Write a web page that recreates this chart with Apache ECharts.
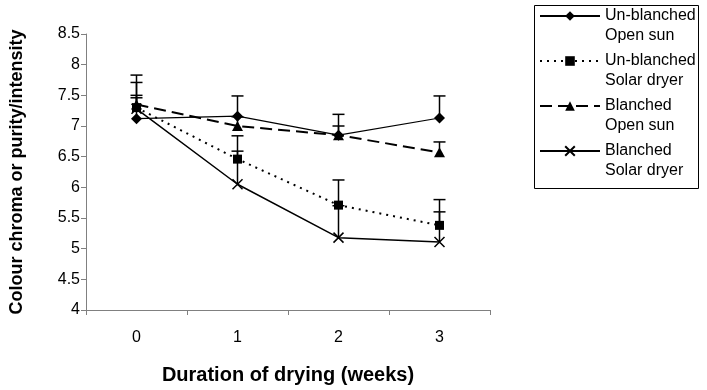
<!DOCTYPE html>
<html><head><meta charset="utf-8">
<script src="https://cdn.jsdelivr.net/npm/echarts@6/dist/echarts.min.js"></script>
<style>html,body{margin:0;padding:0;background:#fff}#c{width:707px;height:390px}</style>
</head><body><div id="c"></div>
<script>
var categories = ['0', '1', '2', '3'];
var unOpenSun = [7.12, 7.16, 6.85, 7.13];
var unOpenSunUpper = [7.50, 7.49, 7.19, 7.49];
var unSolar = [7.30, 6.46, 5.71, 5.38];
var unSolarUpper = [7.83, 6.84, 6.12, 5.80];
var blOpenSun = [7.35, 7.00, 6.85, 6.57];
var blOpenSunUpper = [7.71, 7.15, 7.00, 6.74];
var blSolar = [7.28, 6.05, 5.18, 5.11];
var blSolarUpper = [7.46, 6.59, 5.70, 5.60];
var yTicks = {min: 4, max: 8.5, interval: 0.5};

var names = ['Un-blanched\nOpen sun', 'Un-blanched\nSolar dryer', 'Blanched\nOpen sun', 'Blanched\nSolar dryer'];
var FONT = 'Liberation Sans, Arial, sans-serif';

function errSeries(vals, upper) {
  return {
    type: 'custom',
    silent: true,
    z: 1,
    data: vals.map(function (v, i) { return [i, v, upper[i]]; }),
    renderItem: function (params, api) {
      var p0 = api.coord([api.value(0), api.value(1)]);
      var p1 = api.coord([api.value(0), api.value(2)]);
      var hw = 6;
      return {
        type: 'group',
        children: [
          {type: 'line', shape: {x1: p0[0], y1: p0[1], x2: p1[0], y2: p1[1]}, style: {stroke: '#000', lineWidth: 1.5}},
          {type: 'line', shape: {x1: p1[0] - hw, y1: p1[1], x2: p1[0] + hw, y2: p1[1]}, style: {stroke: '#000', lineWidth: 1.5}}
        ]
      };
    }
  };
}

var chart = echarts.init(document.getElementById('c'), null, {renderer: 'canvas'});
chart.setOption({
  animation: false,
  backgroundColor: '#fff',
  textStyle: {fontFamily: FONT, color: '#000'},
  grid: {left: 86, right: 217, top: 34, bottom: 77},
  graphic: [{
    type: 'rect', left: 532, top: 3, z: 0,
    shape: {width: 164, height: 183},
    style: {fill: 'none', stroke: '#000', lineWidth: 1}
  }],
  legend: {
    left: 539, top: -14,
    orient: 'vertical',
    padding: 0,
    itemWidth: 60, itemHeight: 12,
    itemGap: -15,
    formatter: function (n) { return '\u00a0\n' + n; },
    textStyle: {fontFamily: FONT, fontSize: 16, color: '#000', lineHeight: 20},
    data: names
  },
  xAxis: {
    type: 'category',
    data: categories,
    boundaryGap: true,
    axisLine: {lineStyle: {color: '#808080', width: 1}},
    axisTick: {show: true, length: 5, inside: false, lineStyle: {color: '#808080'}},
    axisLabel: {fontFamily: FONT, fontSize: 16, color: '#000', margin: 20},
    name: 'Duration of drying (weeks)',
    nameLocation: 'middle',
    nameGap: 55,
    nameTextStyle: {fontFamily: FONT, fontSize: 20, fontWeight: 'bold', color: '#000'}
  },
  yAxis: {
    type: 'value',
    min: yTicks.min, max: yTicks.max, interval: yTicks.interval,
    splitLine: {show: false},
    axisLine: {show: true, lineStyle: {color: '#808080', width: 1}},
    axisTick: {show: true, length: 5, lineStyle: {color: '#808080'}},
    axisLabel: {fontFamily: FONT, fontSize: 16, color: '#000', margin: 6,
      formatter: function (v) { return String(Math.round(v * 10) / 10); }},
    name: 'Colour chroma or purity/intensity',
    nameLocation: 'middle',
    nameGap: 60,
    nameTextStyle: {fontFamily: FONT, fontSize: 18, fontWeight: 'bold', color: '#000'}
  },
  series: [
    {name: names[0], type: 'line', data: unOpenSun, z: 3,
      symbol: 'diamond', symbolSize: [11, 11],
      lineStyle: {color: '#000', width: 1.2, type: 'solid'},
      itemStyle: {color: '#000', borderColor: '#000', borderWidth: 0}},
    {name: names[1], type: 'line', data: unSolar, z: 3,
      symbol: 'rect', symbolSize: 9,
      lineStyle: {color: '#000', width: 2, type: [2, 5]},
      itemStyle: {color: '#000', borderColor: '#000', borderWidth: 0}},
    {name: names[2], type: 'line', data: blOpenSun, z: 3,
      symbol: 'triangle', symbolSize: [11, 10],
      lineStyle: {color: '#000', width: 2, type: [12, 6]},
      itemStyle: {color: '#000', borderColor: '#000', borderWidth: 0}},
    {name: names[3], type: 'line', data: blSolar, z: 3,
      symbol: 'path://M0,0L10,10M10,0L0,10', symbolSize: 10,
      lineStyle: {color: '#000', width: 1.5, type: 'solid'},
      itemStyle: {color: 'none', borderColor: '#000', borderWidth: 1.5}},
    errSeries(unOpenSun, unOpenSunUpper),
    errSeries(unSolar, unSolarUpper),
    errSeries(blOpenSun, blOpenSunUpper),
    errSeries(blSolar, blSolarUpper)
  ]
});
</script></body></html>
